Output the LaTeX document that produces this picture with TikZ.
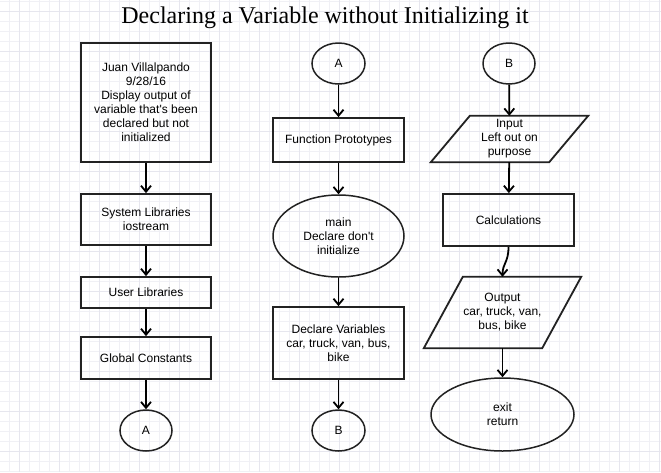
\documentclass[tikz,border=0pt]{standalone}
\usepackage{fontspec}
\setmainfont{Liberation Sans}
\newfontfamily\titlefont{Liberation Serif}
\usetikzlibrary{arrows.meta,shapes.geometric}
\definecolor{gridminor}{HTML}{F0F0F5}
\definecolor{gridmajor}{HTML}{E6E6EE}
\definecolor{edge}{HTML}{222222}
\tikzset{
  x=1pt,y=-1pt,
  base/.style={inner sep=0pt,align=center,font=\fontsize{12}{14}\selectfont,text=black},
  box/.style={base,draw=edge,line width=1.8pt,rectangle},
  oval/.style={base,draw=edge,line width=1.5pt,ellipse},
  iobox/.style={base,rectangle},
  para/.style={draw=edge,line width=1.8pt,line join=miter},
  flow/.style={draw=black,line width=1.8pt,-{Straight Barb[length=6pt,width=10pt]}},
}
\begin{document}
\begin{tikzpicture}
\useasboundingbox (0,0) rectangle (661,472);
\fill[white] (0,0) rectangle (661,472);
% grid
\foreach \gx in {9.5,19.5,...,659.5} {\draw[gridminor,line width=0.8pt] (\gx,0) -- (\gx,472);}
\foreach \gy in {1.5,11.5,...,471.5} {\draw[gridminor,line width=0.8pt] (0,\gy) -- (661,\gy);}
\foreach \gx in {19.5,59.5,...,659.5} {\draw[gridmajor,line width=0.8pt] (\gx,0) -- (\gx,472);}
\foreach \gy in {11.5,51.5,...,471.5} {\draw[gridmajor,line width=0.8pt] (0,\gy) -- (661,\gy);}

\node[inner sep=0pt,font=\titlefont\fontsize{24}{26}\selectfont] (title) at (325,18) {Declaring a Variable without Initializing it};

% left column
\node[box,minimum width=130,minimum height=119] (juan) at (146,102.5)
  {Juan Villalpando\\9/28/16\\Display output of\\variable that\textquotesingle s been\\declared but not\\initialized};
\node[box,minimum width=130,minimum height=51] (syslib) at (146,219.5) {System Libraries\\iostream};
\node[box,minimum width=130,minimum height=31] (userlib) at (146,292.5) {User Libraries};
\node[box,minimum width=130,minimum height=42] (glob) at (146,358) {Global Constants};
\node[oval,minimum width=52,minimum height=41] (a1) at (146,430.5) {A};

% middle column
\node[oval,minimum width=53,minimum height=41] (a2) at (338.5,63.5) {A};
\node[box,minimum width=131,minimum height=44] (proto) at (338.5,140) {Function Prototypes};
\node[oval,minimum width=131,minimum height=82] (main) at (338.5,236) {main\\Declare don\textquotesingle t\\initialize};
\node[box,minimum width=131,minimum height=72] (decl) at (338.5,343) {Declare Variables\\car, truck, van, bus,\\bike};
\node[oval,minimum width=53,minimum height=41] (b1) at (338.5,430.5) {B};

% right column
\node[oval,minimum width=52,minimum height=41] (b2) at (509,63.5) {B};
\node[iobox,minimum width=118,minimum height=46] (inp) at (509.5,139) {Input\\Left out on\\purpose};
\draw[para] ([xshift=19.5]inp.north west) -- ([xshift=19.5]inp.north east)
  -- ([xshift=-19.5]inp.south east) -- ([xshift=-19.5]inp.south west) -- cycle;
\node[box,minimum width=131,minimum height=52] (calc) at (508.5,220) {Calculations};
\node[iobox,minimum width=118,minimum height=71] (outp) at (502.5,312.5) {Output\\car, truck, van,\\bus, bike};
\draw[para] ([xshift=19.5]outp.north west) -- ([xshift=19.5]outp.north east)
  -- ([xshift=-19.5]outp.south east) -- ([xshift=-19.5]outp.south west) -- cycle;
\node[oval,minimum width=143,minimum height=73] (exit) at (502.5,414.5) {exit\\return};

% connectors
\draw[flow] (juan) -- (syslib);
\draw[flow] (syslib) -- (userlib);
\draw[flow] (userlib) -- (glob);
\draw[flow] (glob) -- (a1);
\draw[flow] (a2) -- (proto);
\draw[flow] (proto) -- (main);
\draw[flow] (main) -- (decl);
\draw[flow] (decl) -- (b1);
\draw[flow] (b2) -- (inp);
\draw[flow] (inp) -- (calc);
\draw[flow] (calc.south) .. controls ([yshift=-16pt]calc.south) and ([yshift=14pt]outp.north) .. (outp.north);
\draw[flow] (outp) -- (exit);
\end{tikzpicture}
\end{document}
